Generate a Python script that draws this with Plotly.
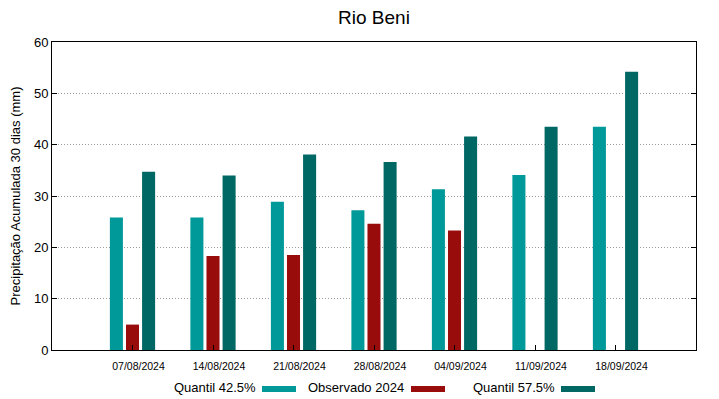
import plotly.graph_objects as go

title = "Rio Beni"
dates = ["07/08/2024", "14/08/2024", "21/08/2024", "28/08/2024", "04/09/2024", "11/09/2024", "18/09/2024"]
q425 = [25.8, 25.8, 28.9, 27.2, 31.3, 34.1, 43.5]
obs2024 = [4.95, 18.3, 18.5, 24.6, 23.3, None, None]
q575 = [34.7, 34.0, 38.1, 36.6, 41.6, 43.5, 54.2]
names = ["Quantil 42.5%", "Observado 2024", "Quantil 57.5%"]
colors = ["#009999", "#990c0c", "#006864"]
y_title = "Precipitação Acumulada 30 dias (mm)"

W, H = 719, 399
L, R, T, B = 52, 23, 42, 49
pw, ph = W - L - R, H - T - B

fig = go.Figure()
for name, vals, col in zip(names, [q425, obs2024, q575], colors):
    fig.add_trace(go.Bar(x=dates, y=vals, name=name, marker=dict(color=col, line=dict(width=0)),
                         showlegend=False))

font = "Liberation Sans, Arial, sans-serif"

# custom legend: text followed by sample (gnuplot style)
legend_items = [(172, 262), (306, 411), (471, 561)]
shapes = []
annotations = []
for (tx, sx), name, col in zip(legend_items, names, colors):
    annotations.append(dict(x=(tx - L) / pw, y=(T + ph - 387) / ph, xref="paper", yref="paper",
                            text=name, showarrow=False, xanchor="left", yanchor="middle",
                            font=dict(family=font, size=13, color="#000")))
    shapes.append(dict(type="rect", xref="paper", yref="paper",
                       x0=(sx - L) / pw, x1=(sx + 34 - L) / pw,
                       y0=(T + ph - 392) / ph, y1=(T + ph - 386) / ph,
                       fillcolor=col, line=dict(width=0)))

fig.update_layout(
    width=W, height=H,
    margin=dict(l=L, r=R, t=T, b=B, autoexpand=False),
    paper_bgcolor="white", plot_bgcolor="white",
    barmode="group", bargap=0.4, bargroupgap=0.19,
    title=dict(text=title, x=(L + pw / 2) / W, xanchor="center", y=1 - 17 / H, yanchor="middle",
               font=dict(family=font, size=19, color="#000")),
    font=dict(family=font, color="#000"),
    shapes=shapes, annotations=annotations,
    xaxis=dict(range=[-1, 7], showline=True, linecolor="#000", linewidth=1, mirror=True,
               ticks="inside", ticklen=5, tickcolor="#000", showgrid=False,
               tickfont=dict(size=10.5, color="#000"), ticklabelshift=6, ticklabelstandoff=6),
    yaxis=dict(range=[0, 60], dtick=10, showline=True, linecolor="#000", linewidth=1, mirror="ticks",
               ticks="inside", ticklen=5, tickcolor="#000",
               showgrid=True, gridcolor="#999999", griddash="1px,2px", gridwidth=1,
               zeroline=False, tickfont=dict(size=13, color="#000"),
               title=dict(text=y_title, font=dict(size=13, color="#000"), standoff=10)),
)

fig.write_html("out.html", config={"displayModeBar": False},
               post_script="document.body.style.margin='0';document.body.style.padding='0';")
